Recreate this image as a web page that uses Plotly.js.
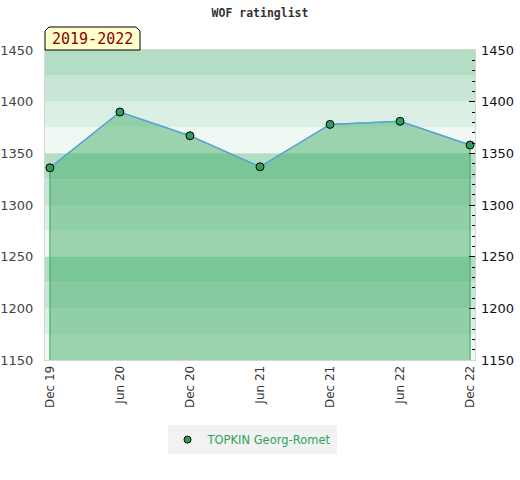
<!DOCTYPE html>
<html>
<head>
<meta charset="utf-8">
<script src="https://cdn.plot.ly/plotly-3.0.1.min.js"></script>
<style>html,body{margin:0;padding:0;background:#fff}#chart{width:520px;height:480px}</style>
</head>
<body>
<div id="chart"></div>
<script>
// ---- data ----
const periods = ["Dec 19", "Jun 20", "Dec 20", "Jun 21", "Dec 21", "Jun 22", "Dec 22"];
const ratings = [1336, 1390, 1367, 1337, 1378, 1381, 1358];
const playerName = "TOPKIN Georg-Romet";
const chartTitle = "WOF ratinglist";
const periodLabel = "2019-2022";
const ratingMin = 1150;
const ratingMax = 1450;

// ---- bands ----
const bandShades = ["#b3dec4", "#c8e6d5", "#dcefe4", "#eff8f2"];
const shapes = [];
let k = 0;
for (let top = ratingMax; top > ratingMin; top -= 25) {
  shapes.push({type: "rect", layer: "below", xref: "paper", yref: "y",
    x0: 0, x1: 1, y0: top - 25, y1: top,
    fillcolor: bandShades[k % 4], line: {width: 0}});
  k++;
}
// label tab with clipped corners
shapes.push({type: "path", xref: "paper", yref: "paper", layer: "above",
  path: "M 0 1 L 0 1.0613 L 0.0093 1.0742 L 0.2116 1.0742 L 0.2209 1.0613 L 0.2209 1 Z",
  fillcolor: "#ffffcc", line: {color: "#000", width: 1}});

const polyX = [periods[0]].concat(periods, [periods[periods.length - 1]]);
const polyY = [ratingMin].concat(ratings, [ratingMin]);

const markerStyle = {color: "#2e9e5b", size: 8, line: {color: "#000", width: 1}};

const traces = [
  {x: polyX, y: polyY, type: "scatter", mode: "lines", fill: "toself",
   fillcolor: "rgba(62,171,100,0.48)", line: {color: "#3aa35e", width: 1},
   hoverinfo: "skip", showlegend: false},
  {x: periods, y: ratings, type: "scatter", mode: "lines+markers", name: playerName,
   line: {color: "#5ba3dc", width: 1.5}, marker: markerStyle, showlegend: false},
  {x: [periods[0]], y: [null], type: "scatter", mode: "markers", name: playerName,
   marker: {color: "#2e9e5b", size: 7, line: {color: "#000", width: 1}}, showlegend: true},
  {x: periods, y: ratings, yaxis: "y2", type: "scatter", mode: "none",
   hoverinfo: "skip", showlegend: false}
];

const layout = {
  width: 520, height: 480,
  margin: {l: 45, r: 45, t: 50, b: 120},
  paper_bgcolor: "#fff", plot_bgcolor: "#fff",
  title: {text: chartTitle, x: 0.5, xanchor: "center", y: 0.973, yanchor: "middle",
    font: {family: "DejaVu Sans Mono", size: 11.5, color: "#333", weight: "bold"}},
  xaxis: {type: "category", range: [-0.07, periods.length - 1 + 0.07],
    tickangle: -90, showgrid: false, zeroline: false,
    showline: true, mirror: true, linecolor: "#d6d6d6", linewidth: 1,
    ticks: "", tickfont: {family: "DejaVu Sans", size: 12, color: "#333"}},
  yaxis: {range: [ratingMin, ratingMax], dtick: 50, showgrid: false, zeroline: false,
    showline: true, mirror: true, linecolor: "#d6d6d6", linewidth: 1,
    ticks: "", ticklabelstandoff: 8,
    tickfont: {family: "DejaVu Sans", size: 13, color: "#444"}},
  yaxis2: {overlaying: "y", side: "right", range: [ratingMin, ratingMax], dtick: 50,
    showgrid: false, zeroline: false, showline: false,
    ticks: "inside", ticklen: 6, tickcolor: "#000", tickwidth: 1,
    minor: {ticks: "inside", ticklen: 3, dtick: 10, tickcolor: "#000", showgrid: false},
    ticklabelstandoff: 5,
    tickfont: {family: "DejaVu Sans", size: 13, color: "#111"}},
  showlegend: true,
  legend: {orientation: "h", x: 0.4814, xanchor: "center", y: -0.21, yanchor: "top",
    bgcolor: "#f2f2f2", font: {family: "DejaVu Sans", size: 11.5, color: "#2ea55a"},
    itemwidth: 30, tracegroupgap: 0},
  shapes: shapes,
  annotations: [{xref: "paper", yref: "paper", x: 0.1105, y: 1.037, xanchor: "center", yanchor: "middle",
    text: periodLabel, showarrow: false,
    font: {family: "DejaVu Sans Mono", size: 15, color: "#8b0000"}}]
};

Plotly.newPlot("chart", traces, layout, {displayModeBar: false, staticPlot: true});
</script>
</body>
</html>
